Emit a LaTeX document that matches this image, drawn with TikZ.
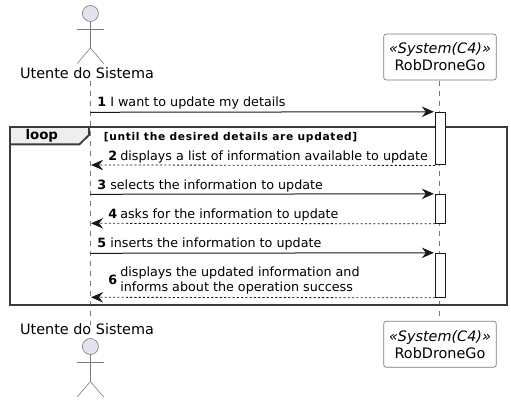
\documentclass[tikz,border=0pt]{standalone}
\usepackage{fontspec}
\setmainfont{DejaVu Sans}
\usetikzlibrary{arrows.meta}
\definecolor{actorfill}{HTML}{E2E2F0}
\definecolor{linegray}{HTML}{7A7A7A}
\definecolor{inkdark}{HTML}{181818}
\definecolor{tabfill}{HTML}{EEEEEE}
\newcommand{\msgfont}{\fontsize{9.55pt}{11.2pt}\selectfont}
\newcommand{\partfont}{\fontsize{10.8pt}{12.6pt}\selectfont}
\tikzset{
  x=0.75pt,y=-0.75pt,
  lifeline/.style={draw=linegray,line width=0.4pt,dash pattern=on 3.75pt off 3.75pt},
  partbox/.style={draw=linegray,fill=white,rounded corners=1.9pt,line width=0.5pt,minimum width=84.4pt,minimum height=34.5pt,inner sep=0pt,align=center,font=\partfont,text=black},
  actorlabel/.style={inner sep=0pt,font=\partfont,text=black},
  actorhead/.style={circle,draw=linegray,fill=actorfill,line width=0.45pt,minimum size=12pt,inner sep=0pt},
  actorline/.style={draw=linegray,line width=0.45pt},
  activation/.style={draw=inkdark,fill=white,line width=0.75pt,minimum width=7.2pt,inner sep=0pt},
  msgtip/.style={-{Stealth[length=9pt,width=7.8pt,inset=3pt]},shorten >=1pt},
  msgline/.style={draw=inkdark,line width=0.75pt,msgtip},
  retline/.style={draw=inkdark,line width=0.6pt,dash pattern=on 1.6pt off 1.6pt},
  msgtext/.style={anchor=base west,inner sep=0pt,font=\msgfont,text=black,align=left},
  framebox/.style={draw=inkdark!85!white,line width=1.4pt},
  looptitle/.style={inner sep=0pt,anchor=base west,font=\bfseries\fontsize{10pt}{11pt}\selectfont},
  guardtext/.style={inner sep=0pt,anchor=base west,font=\bfseries\fontsize{8pt}{9pt}\selectfont\addfontfeature{LetterSpace=6.3}}
}
\begin{document}
\begin{tikzpicture}
\useasboundingbox (0,0) rectangle (511,402);
% lifelines
\coordinate (uTop) at (90.4,81);
\coordinate (uBot) at (90.4,325);
\coordinate (sTop) at (439.4,81);
\coordinate (sBot) at (439.4,318);
\draw[lifeline] (uTop) -- (uBot);
\draw[lifeline] (sTop) -- (sBot);
% loop frame
\fill[tabfill] (10.4,127) -- (89,127) -- (89,135) -- (79.4,144.4) -- (10.4,144.4) -- cycle;
\draw[framebox] (10.4,144.4) -- (79.4,144.4) -- (89,135) -- (89,127);
\draw[framebox] (10.4,127) rectangle (507,305.4);
\node[looptitle] (loopT) at (25.3,140) {loop};
\node[guardtext] (guard) at (103.5,140.2) {[until the desired details are updated]};
% activations
\node[activation,minimum height=39.5pt] (a1) at (440.5,138.6) {};
\node[activation,minimum height=21.75pt] (a2) at (440.5,208.8) {};
\node[activation,minimum height=33pt] (a3) at (440.5,275.3) {};
% user-side message ends
\coordinate (m1) at (90.4,112.3);
\coordinate (m2) at (90.4,165);
\coordinate (m3) at (90.4,194.3);
\coordinate (m4) at (90.4,223.3);
\coordinate (m5) at (90.4,253.3);
\coordinate (m6) at (90.4,297.3);
% messages
\draw[msgline] (m1) -- (a1.north west);
\draw[retline,msgtip,shorten >=0.5pt] (a1.south west) -- (m2);
\draw[msgline] (m3) -- (a2.north west);
\draw[retline,msgtip,shorten >=0.5pt] (a2.south west) -- (m4);
\draw[msgline] (m5) -- (a3.north west);
\draw[retline,msgtip,shorten >=0.5pt] (a3.south west) -- (m6);
% message texts
\node[msgtext] (t1n) at (97,107) {\textbf{1}};
\node[msgtext] (t1) at (110,107) {I want to update my details};
\node[msgtext] (t2n) at (108,161) {\textbf{2}};
\node[msgtext] (t2) at (120,161) {displays a list of information available to update};
\node[msgtext] (t3n) at (97,190) {\textbf{3}};
\node[msgtext] (t3) at (110,190) {selects the information to update};
\node[msgtext] (t4n) at (108,219) {\textbf{4}};
\node[msgtext] (t4) at (120,219) {asks for the information to update};
\node[msgtext] (t5n) at (97,248) {\textbf{5}};
\node[msgtext] (t5) at (110,248) {inserts the information to update};
\node[msgtext] (t6n) at (108,285) {\textbf{6}};
\node[msgtext] (t6a) at (120,277) {displays the updated information and};
\node[msgtext] (t6b) at (120,292) {informs about the operation success};
% participants
\node[partbox] (sysTop) at (440,57) {{\itshape «System(C4)»}\\RobDroneGo};
\node[partbox] (sysBot) at (440,344.3) {{\itshape «System(C4)»}\\RobDroneGo};
\node[actorlabel] (uTopL) at (87,73) {Utente do Sistema};
\node[actorlabel] (uBotL) at (87,329) {Utente do Sistema};
% top actor
\node[actorhead] (headT) at (90.4,13.5) {};
\coordinate (armLT) at (77.2,29);
\coordinate (armRT) at (103.6,29);
\coordinate (hipT) at (90.4,48);
\coordinate (legLT) at (77.2,63.5);
\coordinate (legRT) at (103.6,63.5);
\draw[actorline] (headT) -- (hipT);
\draw[actorline] (armLT) -- (armRT);
\draw[actorline] (legLT) -- (hipT) -- (legRT);
% bottom actor
\node[actorhead] (headB) at (90.4,346.5) {};
\coordinate (armLB) at (77.2,362.3);
\coordinate (armRB) at (103.6,362.3);
\coordinate (hipB) at (90.4,381.5);
\coordinate (legLB) at (77.2,397);
\coordinate (legRB) at (103.6,397);
\draw[actorline] (headB) -- (hipB);
\draw[actorline] (armLB) -- (armRB);
\draw[actorline] (legLB) -- (hipB) -- (legRB);
\end{tikzpicture}
\end{document}
